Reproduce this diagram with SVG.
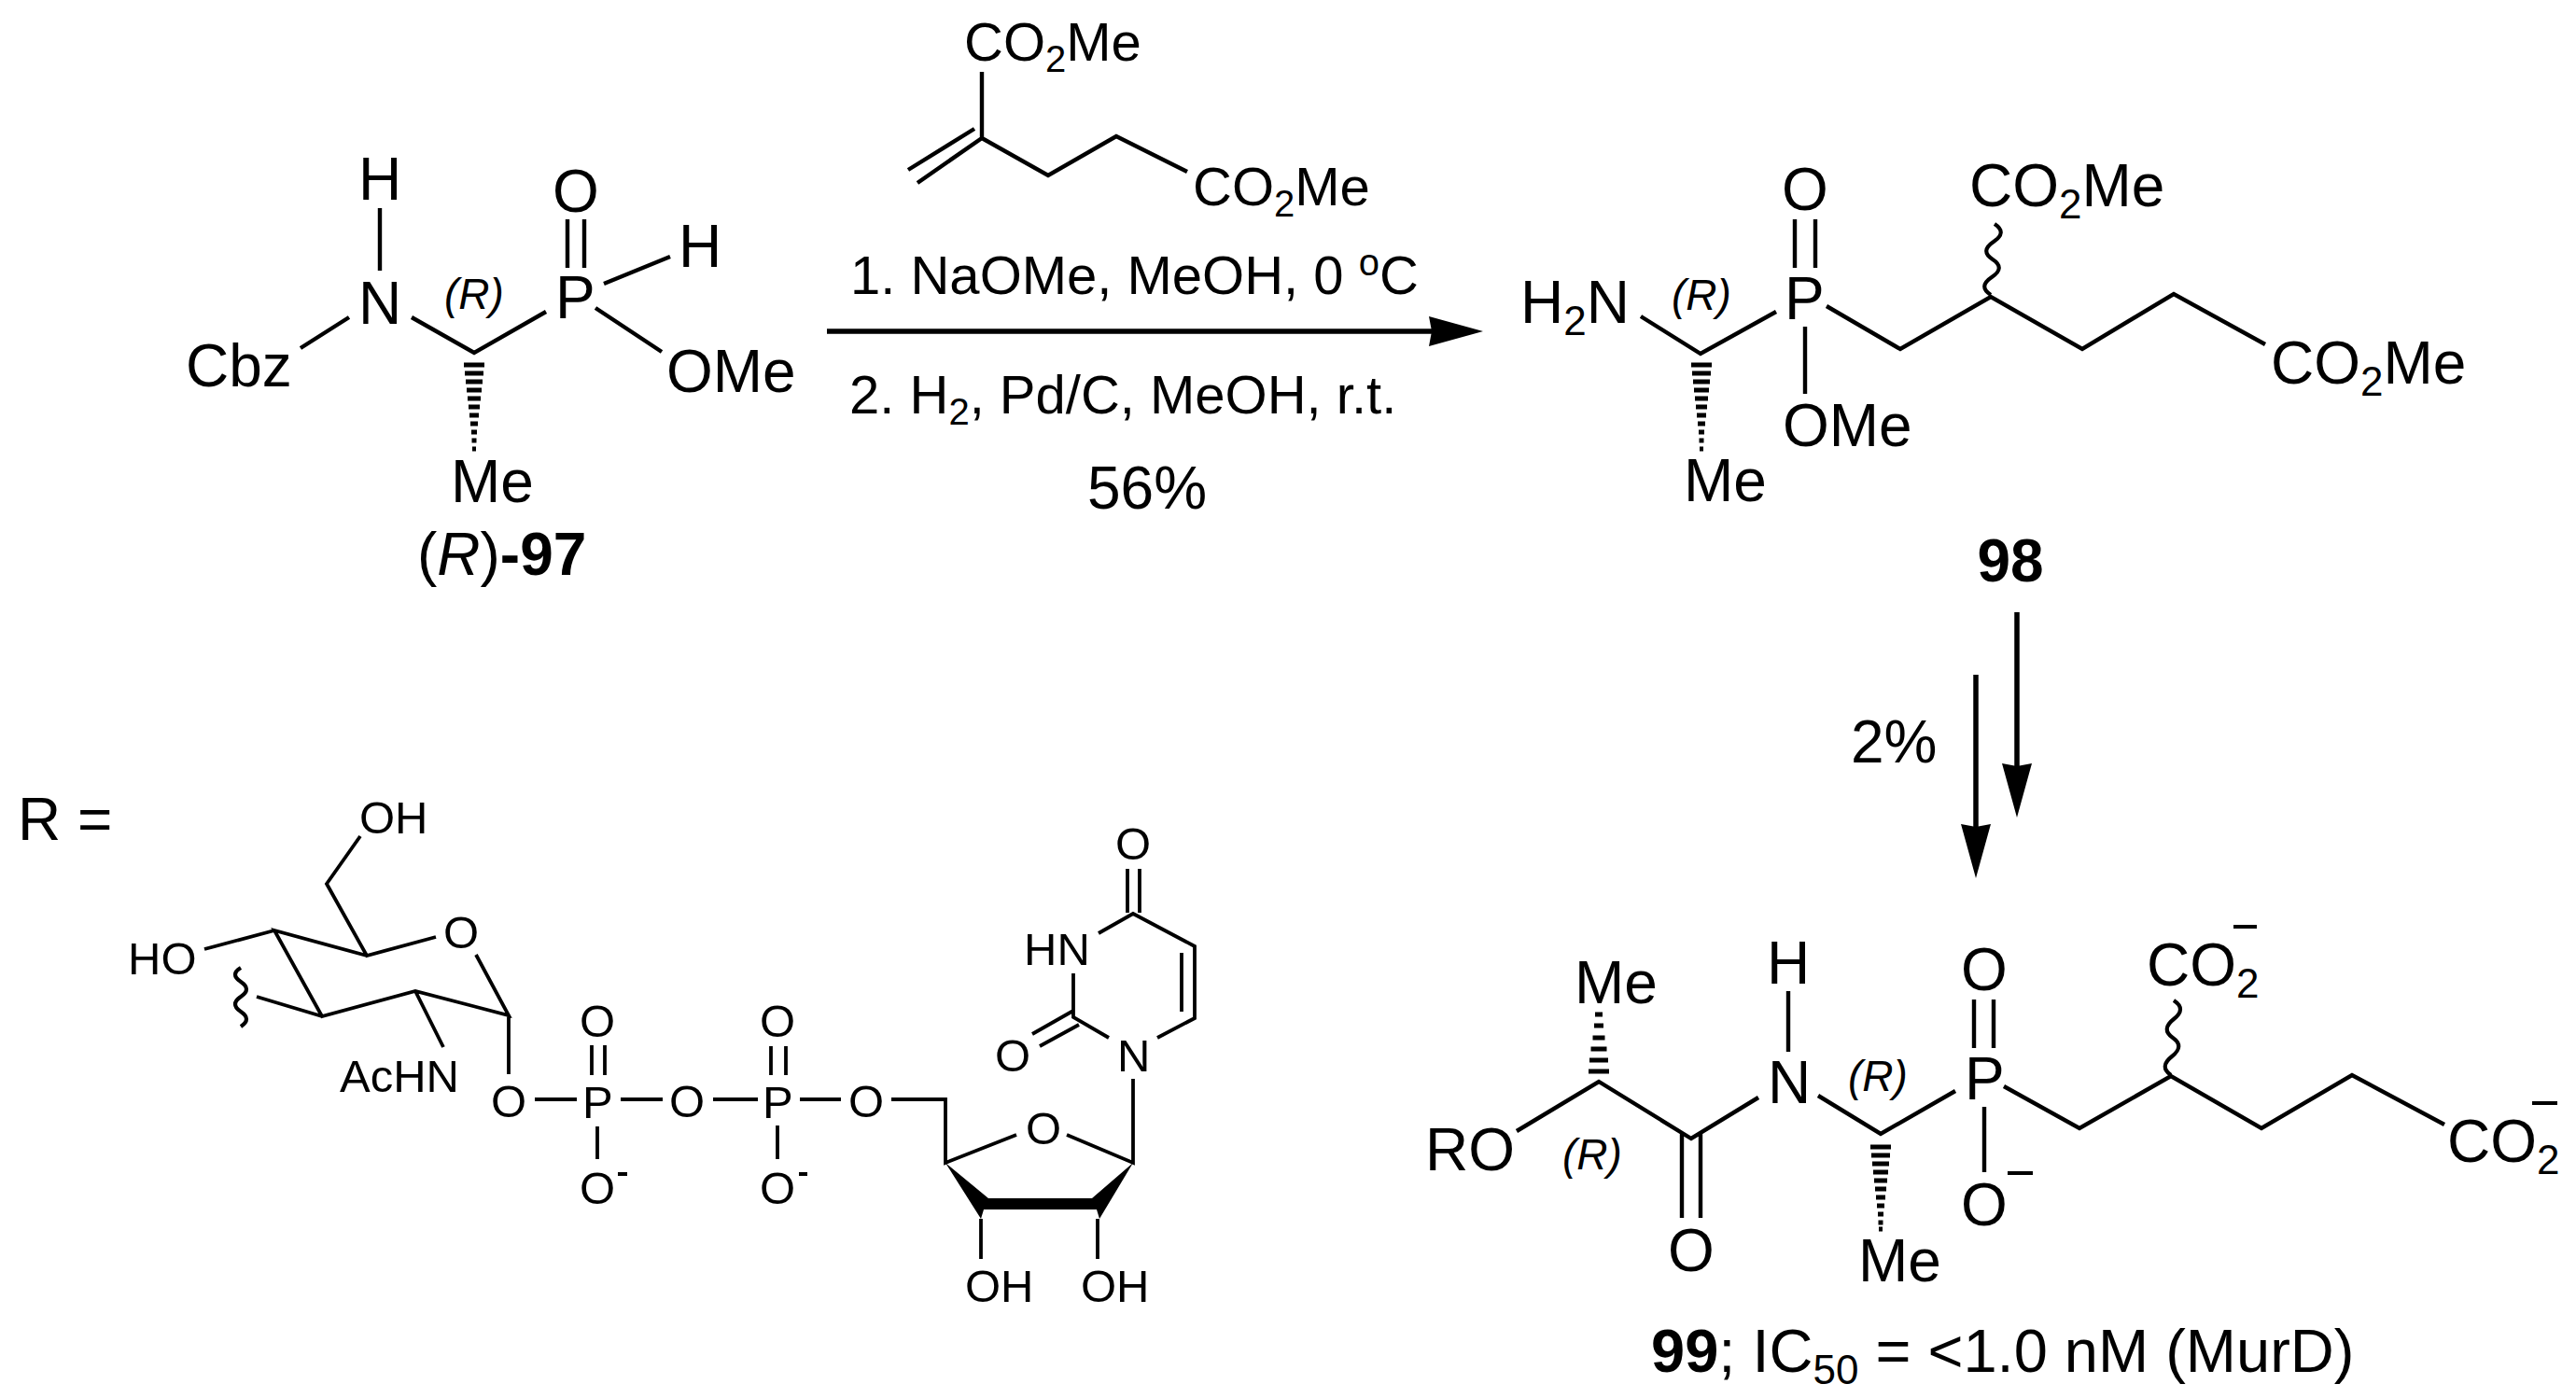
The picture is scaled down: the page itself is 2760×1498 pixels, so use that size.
<svg xmlns="http://www.w3.org/2000/svg" width="2760" height="1498" viewBox="0 0 2760 1498">
<style>
text{font-family:"Liberation Sans",Arial,sans-serif;fill:#000}
.m{font-size:64px}
.g{font-size:58px}
.s{font-size:49px}
.r{font-size:46px;font-style:italic}
.b{fill:none;stroke:#000;stroke-width:4.4;stroke-linejoin:miter}
.c{fill:none;stroke:#000;stroke-width:3.8}
.v{fill:none;stroke:#000;stroke-width:4.2}
.h{fill:none;stroke:#000;stroke-width:5}
.a{fill:none;stroke:#000;stroke-width:5.5}
.w{font-weight:bold}
.u{font-size:44px}
.n{font-size:40px}
</style>
<defs>
<path id="ah" d="M0 0L-16 -58L0 -55L16 -58Z" fill="#000"/>
</defs>
<rect width="2760" height="1498" fill="#fff"/>

<g id="compound-97">
<path class="b" d="M407 223V290M374 340L322 373M441 340L508 378L585 334M608 235V287M626 235V287M647 304L718 275M638 330L709 377"/>
<path class="h" d="M497 391h22M498 400h20M499 409h18M500 418h16M501 427h14M502 436h12M503 445h10M504 454h8M505 463h6M505.500 472h5M506 481h4"/>
<text class="m" x="384" y="214">H</text>
<text class="m" x="384" y="347">N</text>
<text class="m" x="199" y="414">Cbz</text>
<text class="m" x="595" y="341">P</text>
<text class="m" x="592" y="227">O</text>
<text class="m" x="727" y="286">H</text>
<text class="m" x="714" y="420">OMe</text>
<text class="m" x="483" y="538">Me</text>
<text class="r" x="476" y="331">(R)</text>
<text class="m" x="447" y="616">(<tspan font-style="italic">R</tspan>)<tspan class="w">-97</tspan></text>
</g>

<g id="reagent">
<path class="b" d="M1052 77V148M1052 148L983 196M1044 138L973 182M1052 148L1123 188L1196 146L1272 184"/>
<text class="g" x="1033" y="65">CO<tspan class="n" dy="12">2</tspan><tspan dy="-12">Me</tspan></text>
<text class="g" x="1278" y="220">CO<tspan class="n" dy="12">2</tspan><tspan dy="-12">Me</tspan></text>
</g>

<g id="conditions">
<text class="g" x="911" y="315">1. NaOMe, MeOH, 0 <tspan class="n" dy="-20">o</tspan><tspan dy="20">C</tspan></text>
<text class="g" x="910" y="443">2. H<tspan class="n" dy="12">2</tspan><tspan dy="-12">, Pd/C, MeOH, r.t.</tspan></text>
<text class="m" x="1229" y="545" text-anchor="middle">56%</text>
<text class="m" x="1983" y="817">2%</text>
</g>

<g id="connectors">
<path class="a" d="M886 355H1545M2161 656V830M2117 723V895"/>
<use href="#ah" transform="translate(1589 355) rotate(-90)"/>
<use href="#ah" transform="translate(2161 876)"/>
<use href="#ah" transform="translate(2117 941)"/>
</g>

<g id="compound-98">
<path class="b" d="M1758 339L1822 379L1903 334M1923 235V287M1945 235V287M1934 350V422M1957 328L2036 374L2133 318L2231 374L2329 315L2427 369"/>
<path class="v" d="M2133 316q-14-9 1-19t1-19 1-19 1-19"/>
<path class="h" d="M1812 391h22M1813 400h20M1814 409h18M1815 418h16M1816 427h14M1817 436h12M1818 445h10M1819 454h8M1820 463h6M1820.500 472h5M1821 481h4"/>
<text class="m" x="1629" y="346">H<tspan class="u" dy="13">2</tspan><tspan dy="-13">N</tspan></text>
<text class="r" x="1791" y="332">(R)</text>
<text class="m" x="1912" y="342">P</text>
<text class="m" x="1909" y="225">O</text>
<text class="m" x="1910" y="478">OMe</text>
<text class="m" x="1804" y="537">Me</text>
<text class="m" x="2110" y="221">CO<tspan class="u" dy="13">2</tspan><tspan dy="-13">Me</tspan></text>
<text class="m" x="2433" y="411">CO<tspan class="u" dy="13">2</tspan><tspan dy="-13">Me</tspan></text>
<text class="m w" x="2154" y="623" text-anchor="middle">98</text>
</g>

<g id="compound-99">
<path class="b" d="M1625 1212L1713 1159L1812 1220L1884 1176M1802 1213V1305M1822 1213V1305M1916 1062V1127M1948 1174L2015 1215L2095 1169M2115 1071V1123M2136 1071V1123M2126 1186V1256M2147 1164L2228 1209L2326 1153L2423 1209L2520 1152L2619 1205"/>
<path class="v" d="M2326 1152q-13-9 1-20t1-20 1-20 0-20"/>
<path class="h" d="M1702 1148h22M1703 1136h20M1704.500 1124h17M1706.500 1112h13M1708 1099h10M1709 1087h8"/>
<path class="h" d="M2004 1229h22M2005 1238h20M2006 1247h18M2007 1256h16M2008 1265h14M2009 1274h12M2010 1283h10M2011 1292h8M2012 1301h6M2012.500 1310h5M2013 1317h4"/>
<path class="c" d="M2151 1257h27M2393 993h25M2713 1182h27"/>
<text class="m" x="1527" y="1254">RO</text>
<text class="m" x="1687" y="1075">Me</text>
<text class="r" x="1674" y="1253">(R)</text>
<text class="m" x="1787" y="1362">O</text>
<text class="m" x="1894" y="1182">N</text>
<text class="m" x="1893" y="1054">H</text>
<text class="r" x="1980" y="1169">(R)</text>
<text class="m" x="1991" y="1373">Me</text>
<text class="m" x="2105" y="1178">P</text>
<text class="m" x="2101" y="1061">O</text>
<text class="m" x="2101" y="1313">O</text>
<text class="m" x="2300" y="1056">CO<tspan class="u" dy="13">2</tspan></text>
<text class="m" x="2622" y="1245">CO<tspan class="u" dy="13">2</tspan></text>
<text x="1769" y="1470" font-size="65"><tspan class="w">99</tspan>; IC<tspan class="u" dy="13">50</tspan><tspan dy="-13"> = &lt;1.0 nM (MurD)</tspan></text>
</g>

<g id="r-group">
<text x="19" y="900" font-size="64">R =</text>
<path class="c" d="M386 896L350 947L393 1024L467 1004M510 1023L545 1088L445 1062L345 1089L294 997L393 1024M294 997L219 1017M345 1089L275 1068M445 1062L475 1122M545 1088V1151M573 1178H618M634 1120V1152M648 1120V1152M640 1207V1242M665 1178H710M764 1178H812M826 1121V1152M842 1121V1152M833 1206V1242M857 1178H901M955 1178H1013V1246L1089 1216M1143 1216L1214 1246V1156M1240 1112L1280 1091V1014L1214 979L1177 1000M1266 1021V1084M1208 931V978M1221 931V978M1150 1043V1090L1188 1112M1150 1083L1106 1108M1156 1098L1114 1121M1051 1306V1349M1176 1306V1349M662 1258h10M856 1258h9"/>
<path class="v" d="M258 1100q12-8 0-16t0-16 0-16 0-15"/>
<path d="M1013 1246L1059 1284H1170L1214 1246L1178 1306L1175 1296H1054L1051 1306Z" fill="#000"/>
<text class="s" x="385" y="893">OH</text>
<text class="s" x="475" y="1016">O</text>
<text class="s" x="137" y="1044">HO</text>
<text class="s" x="364" y="1170">AcHN</text>
<text class="s" x="526" y="1197">O</text>
<text class="s" x="621" y="1111">O</text>
<text class="s" x="624" y="1198">P</text>
<text class="s" x="621" y="1290">O</text>
<text class="s" x="717" y="1197">O</text>
<text class="s" x="814" y="1111">O</text>
<text class="s" x="817" y="1198">P</text>
<text class="s" x="814" y="1290">O</text>
<text class="s" x="909" y="1197">O</text>
<text class="s" x="1099" y="1226">O</text>
<text class="s" x="1197" y="1148">N</text>
<text class="s" x="1195" y="921">O</text>
<text class="s" x="1097" y="1034">HN</text>
<text class="s" x="1066" y="1148">O</text>
<text class="s" x="1034" y="1395">OH</text>
<text class="s" x="1158" y="1395">OH</text>
</g>
</svg>
